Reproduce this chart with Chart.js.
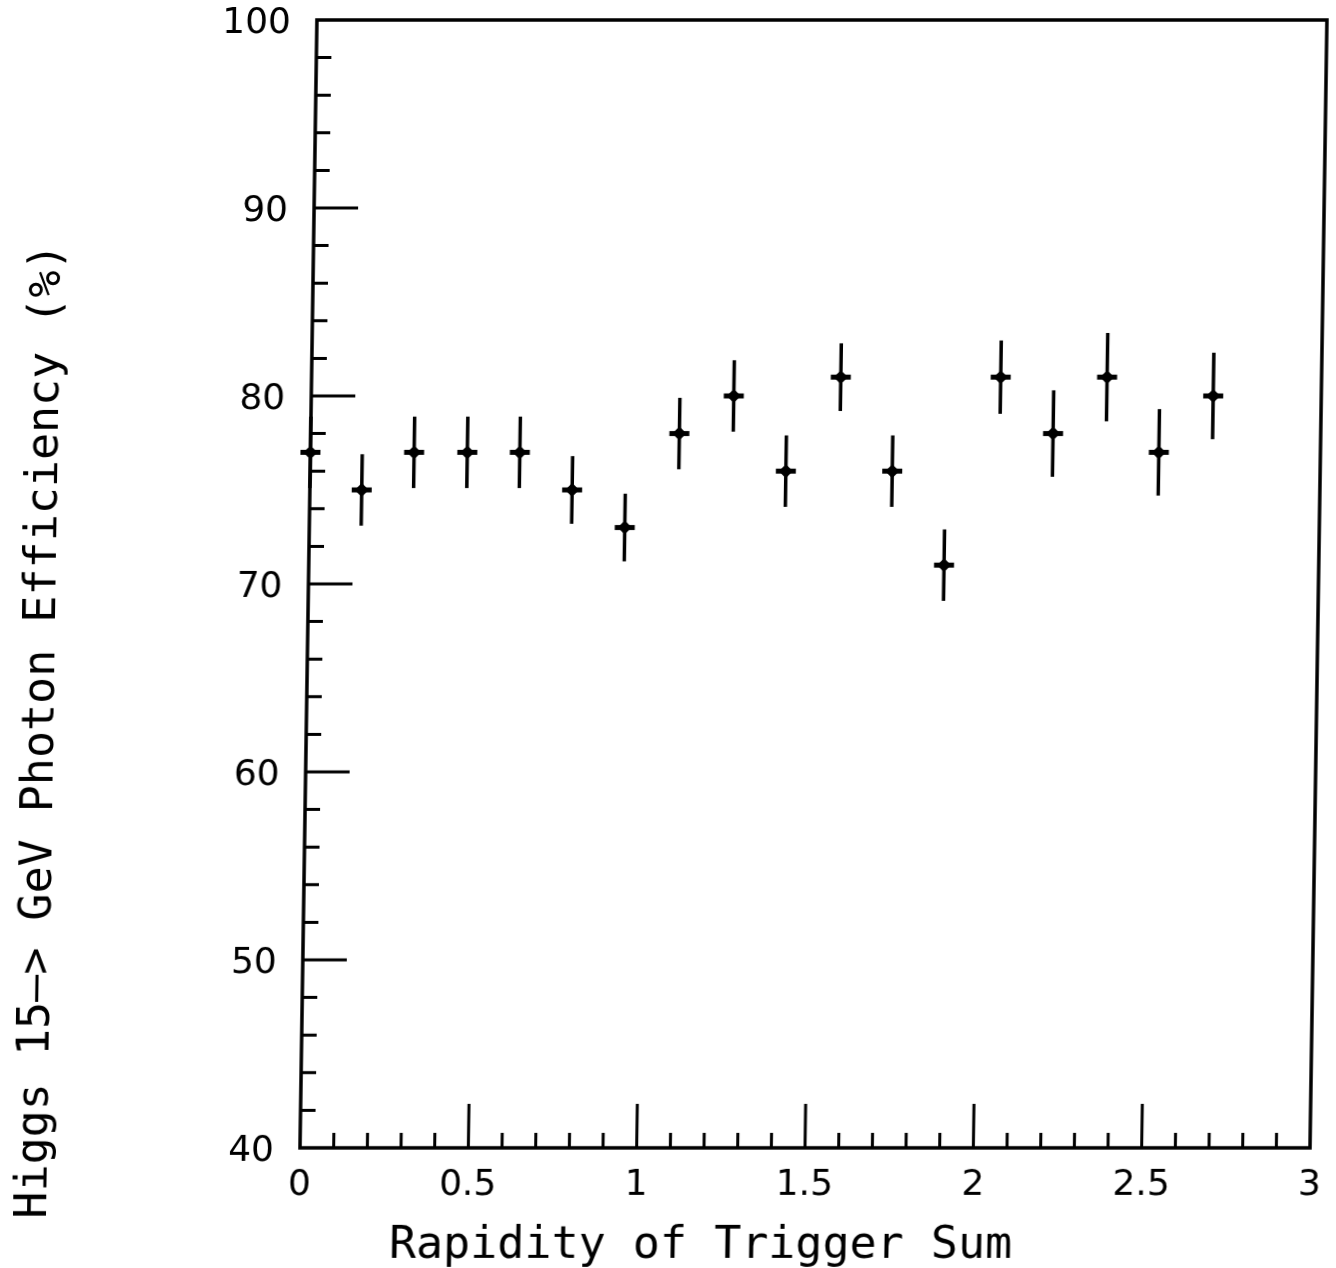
<!DOCTYPE html>
<html>
<head>
<meta charset="utf-8">
<title>Higgs photon efficiency vs rapidity of trigger sum</title>
<script src="https://cdn.jsdelivr.net/npm/chart.js@4.4.1/dist/chart.umd.min.js"></script>
<style>
  html, body { margin: 0; padding: 0; background: #fff; overflow: hidden; }
  /* the scanned original leans a little: vertical lines drift right towards the top */
  #wrap { width: 1336px; height: 1268px; transform-origin: 0 1148px; transform: skewX(-0.86deg); }
</style>
</head>
<body>
<div id="wrap"><canvas id="chart" width="1336" height="1268"></canvas></div>
<script>
// - data ---------------------------------------------
const rapidity = [0.000, 0.154, 0.308, 0.466, 0.622, 0.779, 0.937, 1.095, 1.255,
                  1.413, 1.572, 1.729, 1.887, 2.047, 2.205, 2.363, 2.520, 2.679];
const efficiency = [77, 75, 77, 77, 77, 75, 73, 78, 80, 76, 81, 76, 71, 81, 78, 81, 77, 80];
const efficiencyErr = [1.9, 1.9, 1.9, 1.9, 1.9, 1.8, 1.8, 1.9, 1.9, 1.9, 1.8, 1.9, 1.9, 1.95,
                       2.3, 2.35, 2.3, 2.3];

const xTickValues = [0, 0.5, 1, 1.5, 2, 2.5, 3];
const xTickLabels = ['0', '0.5', '1', '1.5', '2', '2.5', '3'];
const yTickValues = [40, 50, 60, 70, 80, 90, 100];
const yTickLabels = ['40', '50', '60', '70', '80', '90', '100'];

const xTitle = 'Rapidity of Trigger Sum';
const yTitle = 'Higgs 15\u2013> GeV Photon Efficiency (%)';

const INK = '#000';
const tickFont = { family: '"DejaVu Sans", sans-serif', size: 36 };
const titleFont = '45px "DejaVu Sans Mono", monospace';

// frame + inward tick marks (minor every 0.1 on x, every 2 on y)
const frameTicksPlugin = {
  id: 'frameTicks',
  afterDraw(chart) {
    const { ctx, chartArea: a } = chart;
    const xs = chart.scales.x, ys = chart.scales.y;
    ctx.save();
    ctx.strokeStyle = INK;
    ctx.lineWidth = 3.5;
    ctx.lineCap = 'square';
    ctx.strokeRect(a.left, a.top, a.right - a.left, a.bottom - a.top);

    ctx.lineCap = 'butt';
    ctx.lineWidth = 3;
    ctx.beginPath();
    for (let i = 1; i < 30; i++) {
      const px = xs.getPixelForValue(i / 10);
      const len = i % 5 === 0 ? 44 : 15;
      ctx.moveTo(px, a.bottom);
      ctx.lineTo(px, a.bottom - len);
    }
    for (let v = 42; v < 100; v += 2) {
      const py = ys.getPixelForValue(v);
      const len = v % 10 === 0 ? 44 : 15;
      ctx.moveTo(a.left, py);
      ctx.lineTo(a.left + len, py);
    }
    ctx.stroke();
    ctx.restore();
  }
};

// vertical error bars and the short horizontal arms of each marker
const errorBarsPlugin = {
  id: 'errorBars',
  beforeDatasetsDraw(chart) {
    const { ctx } = chart;
    const xs = chart.scales.x, ys = chart.scales.y;
    ctx.save();
    ctx.strokeStyle = INK;
    rapidity.forEach((x, i) => {
      const px = xs.getPixelForValue(x);
      const py = ys.getPixelForValue(efficiency[i]);
      ctx.lineWidth = 3.5;
      ctx.beginPath();
      ctx.moveTo(px, ys.getPixelForValue(efficiency[i] + efficiencyErr[i]));
      ctx.lineTo(px, ys.getPixelForValue(efficiency[i] - efficiencyErr[i]));
      ctx.stroke();
      ctx.lineWidth = 5;
      ctx.beginPath();
      ctx.moveTo(px - 10, py);
      ctx.lineTo(px + 10, py);
      ctx.stroke();
    });
    ctx.restore();
  }
};

// axis titles, placed where the original has them (not centred on the frame)
const axisTitlesPlugin = {
  id: 'axisTitles',
  afterDraw(chart) {
    const { ctx } = chart;
    ctx.save();
    ctx.fillStyle = INK;
    ctx.font = titleFont;
    ctx.textAlign = 'center';
    ctx.textBaseline = 'alphabetic';
    ctx.fillText(xTitle, 702, 1258);
    ctx.translate(47, 731);
    ctx.rotate(-Math.PI / 2);
    ctx.fillText(yTitle, 0, 0);
    ctx.restore();
  }
};

const points = rapidity.map((x, i) => ({ x, y: efficiency[i] }));

new Chart(document.getElementById('chart').getContext('2d'), {
  type: 'scatter',
  data: {
    datasets: [{
      data: points,
      pointStyle: 'rectRot',
      pointRadius: 7,
      pointHoverRadius: 7,
      backgroundColor: INK,
      borderWidth: 0,
      clip: false
    }]
  },
  options: {
    responsive: false,
    animation: false,
    devicePixelRatio: 1,
    layout: { padding: { top: 20, right: 26, left: 0, bottom: 0 } },
    scales: {
      x: {
        type: 'linear',
        min: 0,
        max: 3,
        grid: { display: false, drawTicks: false },
        border: { display: false },
        afterBuildTicks: (s) => { s.ticks = xTickValues.map(v => ({ value: v })); },
        afterFit: (s) => { s.height = 120; s.paddingLeft = 0; s.paddingRight = 0; },
        ticks: {
          autoSkip: false,
          maxRotation: 0,
          padding: 16,
          color: INK,
          font: tickFont,
          callback: (v, i) => xTickLabels[i]
        }
      },
      y: {
        type: 'linear',
        min: 40,
        max: 100,
        grid: { display: false, drawTicks: false },
        border: { display: false },
        afterBuildTicks: (s) => { s.ticks = yTickValues.map(v => ({ value: v })); },
        afterFit: (s) => { s.width = 300; s.paddingTop = 0; s.paddingBottom = 0; },
        ticks: {
          autoSkip: false,
          padding: 26,
          labelOffset: 4,
          color: INK,
          font: tickFont,
          callback: (v, i) => yTickLabels[i]
        }
      }
    },
    plugins: {
      legend: { display: false },
      title: { display: false },
      tooltip: { enabled: false }
    }
  },
  plugins: [errorBarsPlugin, frameTicksPlugin, axisTitlesPlugin]
});
</script>
</body>
</html>
